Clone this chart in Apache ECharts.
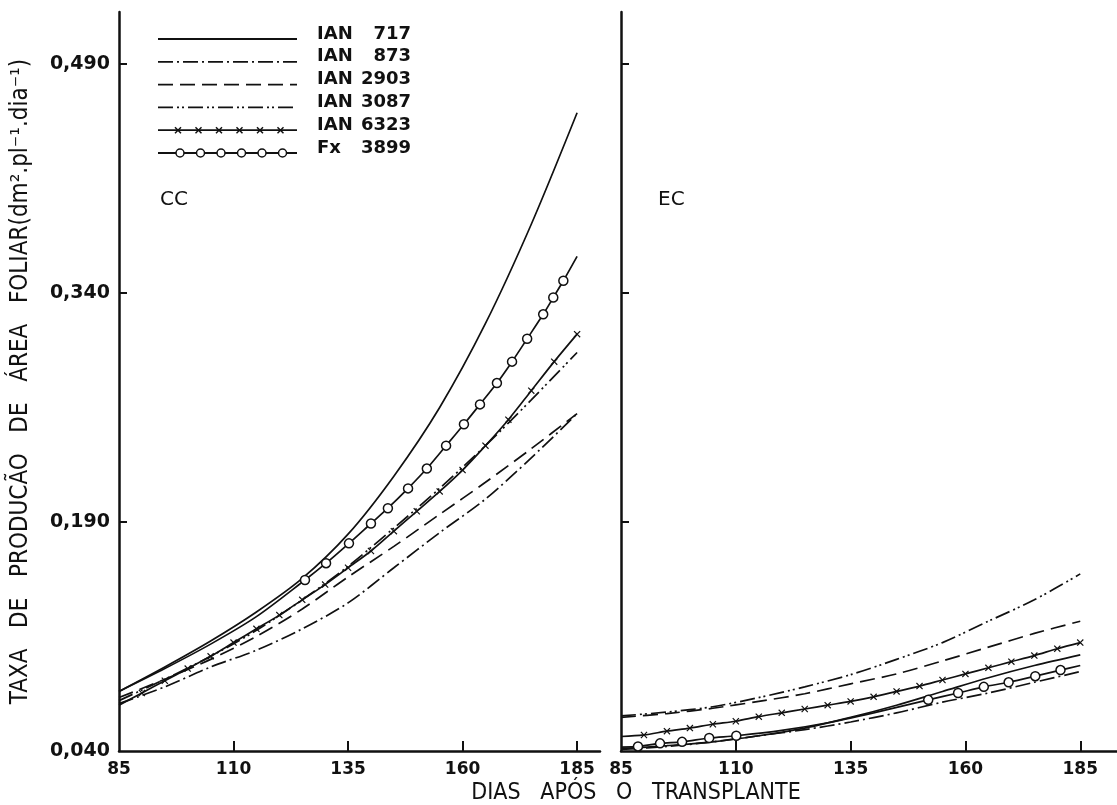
<!DOCTYPE html>
<html><head><meta charset="utf-8">
<script src="https://cdn.jsdelivr.net/npm/echarts@6/dist/echarts.min.js"></script>
<style>html,body{margin:0;padding:0;background:#fff}#c{width:1117px;height:805px}</style>
</head><body><div id="c"></div>
<script>
// ---------- data ----------
const days10 = [85, 95, 105, 115, 125, 135, 145, 155, 165, 175, 185];
const days5  = [85, 90, 95, 100, 105, 110, 115, 120, 125, 130, 135, 140, 145, 150, 155, 160, 165, 170, 175, 180, 185];
const xTickValues = [85, 110, 135, 160, 185];
const yLabelValues = [0.04, 0.19, 0.34, 0.49];
const yTickValues = [0.19, 0.34, 0.49];

// CC panel
const ccIAN717  = [0.079, 0.095, 0.112, 0.131, 0.153, 0.182, 0.220, 0.265, 0.320, 0.385, 0.458];
const ccIAN873  = [0.071, 0.082, 0.095, 0.106, 0.120, 0.137, 0.160, 0.183, 0.205, 0.232, 0.261];
const ccIAN2903 = [0.075, 0.087, 0.100, 0.115, 0.133, 0.154, 0.174, 0.195, 0.216, 0.238, 0.261];
const ccIAN3087 = [0.073, 0.087, 0.102, 0.119, 0.139, 0.161, 0.186, 0.212, 0.240, 0.270, 0.301];
const ccIAN6323 = [0.070, 0.078, 0.086, 0.094, 0.102, 0.111, 0.120, 0.129, 0.139, 0.149, 0.160, 0.171, 0.184, 0.197, 0.210, 0.224, 0.240, 0.257, 0.276, 0.295, 0.313];
const ccFx3899Line    = [[85, 0.079], [95, 0.094], [105, 0.110], [115, 0.128], [185, 0.364]];
const ccFx3899Circles = [[125.6, 0.152], [130.2, 0.163], [135.2, 0.176], [140, 0.189], [143.7, 0.199], [148.1, 0.212], [152.2, 0.225], [156.4, 0.240], [160.3, 0.254], [163.8, 0.267], [167.5, 0.281], [170.8, 0.295], [174.1, 0.310], [177.6, 0.326], [179.8, 0.337], [182, 0.348]];

// EC panel
const ecIAN717  = [0.0415, 0.0435, 0.046, 0.050, 0.055, 0.062, 0.070, 0.079, 0.088, 0.096, 0.103];
const ecIAN873  = [0.041, 0.043, 0.046, 0.050, 0.054, 0.059, 0.065, 0.072, 0.078, 0.085, 0.092];
const ecIAN2903 = [0.062, 0.0645, 0.068, 0.0725, 0.0775, 0.084, 0.0905, 0.099, 0.108, 0.117, 0.125];
const ecIAN3087 = [0.063, 0.0655, 0.069, 0.075, 0.082, 0.090, 0.100, 0.111, 0.125, 0.139, 0.156];
const ecIAN6323 = [0.0495, 0.0505, 0.053, 0.055, 0.0575, 0.0595, 0.0625, 0.065, 0.0675, 0.070, 0.0725, 0.0755, 0.079, 0.0825, 0.0865, 0.0905, 0.0945, 0.0985, 0.1025, 0.107, 0.111];
const ecFx3899Line    = [[85, 0.0425], [120, 0.0535], [130, 0.0585], [140, 0.065], [185, 0.096]];
const ecFx3899Circles = [[88.7, 0.043], [93.5, 0.045], [98.3, 0.046], [104.2, 0.0485], [110.1, 0.050], [151.9, 0.0735], [158.4, 0.078], [164, 0.082], [169.4, 0.085], [175.2, 0.089], [180.7, 0.093]];

const legendNames = ['IAN', 'IAN', 'IAN', 'IAN', 'IAN', 'Fx'];
const legendNums  = ['717', '873', '2903', '3087', '6323', '3899'];
const panelLabels = ['CC', 'EC'];
const yTitle = 'TAXA   DE   PRODUCÃO   DE   ÁREA   FOLIAR(dm\u00B2.pl\u207B\u00B9.dia\u207B\u00B9)';
const xTitle = 'DIAS   APÓS   O   TRANSPLANTE';

// ---------- styles ----------
const INK = '#111';
const FONT = '"DejaVu Sans", sans-serif';
const FONT_C = '"DejaVu Sans Condensed", "DejaVu Sans", sans-serif';
const dashStyles = {
  s717: 'solid',
  s873: [15, 4, 2, 4],
  s2903: [15, 7],
  s3087: [15, 4, 2, 3, 2, 4],
  s6323: 'solid',
  s3899: 'solid'
};
const xPath = 'path://M0,1.2L1.2,0L5,3.8L8.8,0L10,1.2L6.2,5L10,8.8L8.8,10L5,6.2L1.2,10L0,8.8L3.8,5Z';

function pairs(days, vals) { return days.map((d, i) => [d, vals[i]]); }

function lineSeries(name, g, data, dash, extra) {
  return Object.assign({
    name: name, type: 'line', xAxisIndex: g, yAxisIndex: g,
    data: data, smooth: 0.3, symbol: 'none',
    lineStyle: { color: INK, width: 1.7, type: dash },
    itemStyle: { color: INK }, silent: true, animation: false, z: 3
  }, extra || {});
}

function circleSeries(name, g, linePts, circlePts) {
  const all = linePts.map(p => ({ value: p, symbol: 'none' }))
    .concat(circlePts.map(p => ({ value: p, symbol: 'circle', symbolSize: 9,
      itemStyle: { color: '#fff', borderColor: INK, borderWidth: 1.5 } })));
  all.sort((a, b) => a.value[0] - b.value[0]);
  return lineSeries(name, g, all, 'solid', { showSymbol: true, showAllSymbol: true, z: 4 });
}

function xSeries(name, g, vals) {
  const data = pairs(days5, vals).map((p, i) => i === 0 ? { value: p, symbol: 'none' } : { value: p });
  return lineSeries(name, g, data, 'solid', {
    symbol: xPath, symbolSize: 7, showSymbol: true, showAllSymbol: true
  });
}

const series = [
  lineSeries('IAN 717', 0, pairs(days10, ccIAN717), dashStyles.s717),
  lineSeries('IAN 873', 0, pairs(days10, ccIAN873), dashStyles.s873),
  lineSeries('IAN 2903', 0, pairs(days10, ccIAN2903), dashStyles.s2903),
  lineSeries('IAN 3087', 0, pairs(days10, ccIAN3087), dashStyles.s3087),
  xSeries('IAN 6323', 0, ccIAN6323),
  circleSeries('Fx 3899', 0, ccFx3899Line, ccFx3899Circles),
  lineSeries('IAN 717', 1, pairs(days10, ecIAN717), dashStyles.s717),
  lineSeries('IAN 873', 1, pairs(days10, ecIAN873), dashStyles.s873),
  lineSeries('IAN 2903', 1, pairs(days10, ecIAN2903), dashStyles.s2903),
  lineSeries('IAN 3087', 1, pairs(days10, ecIAN3087), dashStyles.s3087),
  xSeries('IAN 6323', 1, ecIAN6323),
  circleSeries('Fx 3899', 1, ecFx3899Line, ecFx3899Circles)
];

function xAxis(g, max) {
  return {
    type: 'value', gridIndex: g, min: 85, max: max, interval: 25,
    axisLine: { show: true, onZero: false, lineStyle: { color: INK, width: 2.5 } },
    axisTick: { show: true, inside: true, length: 10, customValues: xTickValues.slice(1), lineStyle: { color: INK, width: 2 } },
    axisLabel: { show: true, customValues: xTickValues, margin: 10, color: INK,
      fontFamily: FONT, fontWeight: 'bold', fontSize: 17 },
    splitLine: { show: false }
  };
}
function yAxis(g, showLabels) {
  return {
    type: 'value', gridIndex: g, min: 0.04, max: 0.524, interval: 0.15,
    axisLine: { show: true, onZero: false, lineStyle: { color: INK, width: 2.5 } },
    axisTick: { show: true, inside: true, length: 8, customValues: yTickValues, lineStyle: { color: INK, width: 2 } },
    axisLabel: { show: showLabels, customValues: yLabelValues, margin: 9, color: INK,
      fontFamily: FONT, fontWeight: 'bold', fontSize: 19,
      formatter: v => v.toFixed(3).replace('.', ',') },
    splitLine: { show: false },
    name: showLabels ? yTitle : '', nameLocation: 'middle', nameGap: 86,
    nameTextStyle: { color: INK, fontFamily: FONT_C, fontSize: 24 }
  };
}

// legend keys drawn as graphics
const legendGraphics = [];
const lgX1 = 158, lgX2 = 297, lgY0 = 39, lgDY = 22.8;
const keyDash = [null, dashStyles.s873, dashStyles.s2903, dashStyles.s3087, null, null];
for (let i = 0; i < 6; i++) {
  const y = lgY0 + i * lgDY;
  legendGraphics.push({ type: 'line', shape: { x1: lgX1, y1: y, x2: lgX2, y2: y },
    style: { stroke: INK, lineWidth: 1.8, lineDash: keyDash[i] } });
  if (i === 4) {
    for (let k = 0; k < 6; k++) {
      const cx = 178 + k * 20.5;
      legendGraphics.push({ type: 'line', shape: { x1: cx - 3, y1: y - 3, x2: cx + 3, y2: y + 3 }, style: { stroke: INK, lineWidth: 1.5 } });
      legendGraphics.push({ type: 'line', shape: { x1: cx - 3, y1: y + 3, x2: cx + 3, y2: y - 3 }, style: { stroke: INK, lineWidth: 1.5 } });
    }
  }
  if (i === 5) {
    for (let k = 0; k < 6; k++) {
      const cx = 180 + k * 20.5;
      legendGraphics.push({ type: 'circle', shape: { cx: cx, cy: y, r: 4 }, style: { fill: '#fff', stroke: INK, lineWidth: 1.5 } });
    }
  }
  legendGraphics.push({ type: 'text', x: 317, y: y - 5, style: { text: legendNames[i], fill: INK,
    font: 'bold 18px ' + FONT, textAlign: 'left', textVerticalAlign: 'middle' } });
  legendGraphics.push({ type: 'text', x: 411, y: y - 5, style: { text: legendNums[i], fill: INK,
    font: 'bold 18px ' + FONT, textAlign: 'right', textVerticalAlign: 'middle' } });
}

const option = {
  backgroundColor: '#fff',
  animation: false,
  legend: { show: false },
  grid: [
    { left: 119, top: 12, width: 481, bottom: 54, containLabel: false },
    { left: 621, top: 12, right: 0, bottom: 54, containLabel: false }
  ],
  xAxis: [xAxis(0, 190), xAxis(1, 193)],
  yAxis: [yAxis(0, true), yAxis(1, false)],
  series: series,
  graphic: legendGraphics.concat([
    { type: 'text', x: 160, y: 200, style: { text: panelLabels[0], fill: INK, font: '20px ' + FONT, textAlign: 'left', textVerticalAlign: 'middle' } },
    { type: 'text', x: 658, y: 200, style: { text: panelLabels[1], fill: INK, font: '20px ' + FONT, textAlign: 'left', textVerticalAlign: 'middle' } },
    { type: 'text', x: 636, y: 793, style: { text: xTitle, fill: INK, font: '23px ' + FONT_C, textAlign: 'center', textVerticalAlign: 'middle' } }
  ])
};

const chart = echarts.init(document.getElementById('c'), null, { renderer: 'canvas' });
chart.setOption(option);
</script>
</body></html>
